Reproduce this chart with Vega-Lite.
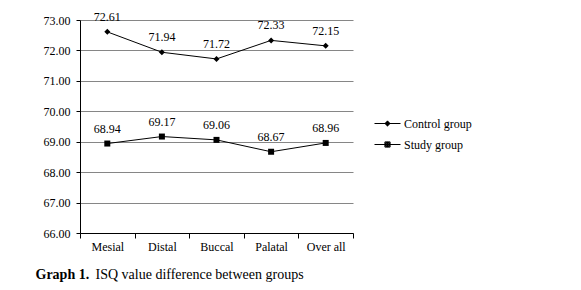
{
  "$schema": "https://vega.github.io/schema/vega-lite/v6.json",
  "width": 273,
  "height": 213,
  "autosize": {"type": "none"},
  "padding": {"left": 80, "top": 20, "right": 228, "bottom": 57},
  "background": "white",
  "config": {
    "font": "serif",
    "view": {"stroke": null},
    "text": {"font": "serif"},
    "axis": {"labelFont": "serif", "labelFontSize": 12, "labelColor": "black", "titleFont": "serif", "titleColor": "black"},
    "legend": {"labelFont": "serif"}
  },
  "data": {
    "values": [
      {"site": "Mesial", "group": "Control group", "isq": 72.61},
      {"site": "Distal", "group": "Control group", "isq": 71.94},
      {"site": "Buccal", "group": "Control group", "isq": 71.72},
      {"site": "Palatal", "group": "Control group", "isq": 72.33},
      {"site": "Over all", "group": "Control group", "isq": 72.15},
      {"site": "Mesial", "group": "Study group", "isq": 68.94},
      {"site": "Distal", "group": "Study group", "isq": 69.17},
      {"site": "Buccal", "group": "Study group", "isq": 69.06},
      {"site": "Palatal", "group": "Study group", "isq": 68.67},
      {"site": "Over all", "group": "Study group", "isq": 68.96}
    ]
  },
  "encoding": {
    "x": {
      "field": "site", "type": "nominal", "sort": null,
      "scale": {"type": "band", "paddingInner": 0, "paddingOuter": 0},
      "axis": {
        "title": "ISQ value difference between groups",
        "titleFontSize": 14, "titleFontWeight": "normal",
        "titleX": 15, "titleY": 45, "titleAlign": "left", "titleBaseline": "alphabetic", "titleAnchor": "start",
        "labelAngle": 0, "tickBand": "extent", "domainColor": "black", "tickColor": "black",
        "tickSize": 5, "labelPadding": 3, "grid": false
      }
    },
    "y": {
      "field": "isq", "type": "quantitative",
      "scale": {"domain": [66, 73], "nice": false, "zero": false},
      "axis": {
        "values": [66, 67, 68, 69, 70, 71, 72, 73], "format": ".2f",
        "grid": true, "gridColor": "#868686", "domainColor": "black", "tickColor": "black",
        "tickSize": 4, "labelPadding": 6,
        "title": "Graph 1.", "titleAngle": 0, "titleX": -45, "titleY": 258,
        "titleAlign": "left", "titleBaseline": "alphabetic", "titleFontWeight": "bold", "titleFontSize": 14, "titleAnchor": "start"
      }
    }
  },
  "layer": [
    {
      "mark": {"type": "line", "color": "black", "strokeWidth": 1},
      "encoding": {"detail": {"field": "group"}}
    },
    {
      "mark": {"type": "point", "filled": true, "color": "black", "opacity": 1, "size": 36},
      "encoding": {
        "shape": {"field": "group", "scale": {"domain": ["Control group", "Study group"], "range": ["diamond", "square"]}, "legend": null}
      }
    },
    {
      "transform": [{"filter": "false"}],
      "mark": {"type": "point", "filled": false, "stroke": "black", "strokeWidth": 1, "opacity": 1},
      "encoding": {
        "shape": {
          "field": "group",
          "scale": {"domain": ["Control group", "Study group"], "range": [
            "M-1,0L1,0M0,-0.2L0.2,0L0,0.2L-0.2,0ZM0,-0.15L0.15,0L0,0.15L-0.15,0ZM0,-0.1L0.1,0L0,0.1L-0.1,0ZM0,-0.05L0.05,0L0,0.05L-0.05,0ZM0,-0.2L0,0.2",
            "M-1,0L1,0M-0.2,-0.2L0.2,-0.2L0.2,0.2L-0.2,0.2ZM-0.15,-0.15L0.15,-0.15L0.15,0.15L-0.15,0.15ZM-0.1,-0.1L0.1,-0.1L0.1,0.1L-0.1,0.1ZM-0.05,-0.05L0.05,-0.05L0.05,0.05L-0.05,0.05ZM0,-0.2L0,0.2"
          ]},
          "legend": {
            "orient": "none", "legendX": 294, "legendY": 90, "title": null,
            "symbolSize": 676, "labelFontSize": 12, "labelColor": "black",
            "labelOffset": 3, "rowPadding": 1,
            "symbolStrokeColor": "black", "symbolStrokeWidth": 1, "symbolOpacity": 1
          }
        }
      }
    },
    {
      "mark": {"type": "text", "baseline": "bottom", "dy": -8, "fontSize": 12, "color": "black"},
      "encoding": {"text": {"field": "isq", "type": "quantitative", "format": ".2f"}}
    }
  ],
  "resolve": {"scale": {"shape": "independent"}, "legend": {"shape": "independent"}}
}
